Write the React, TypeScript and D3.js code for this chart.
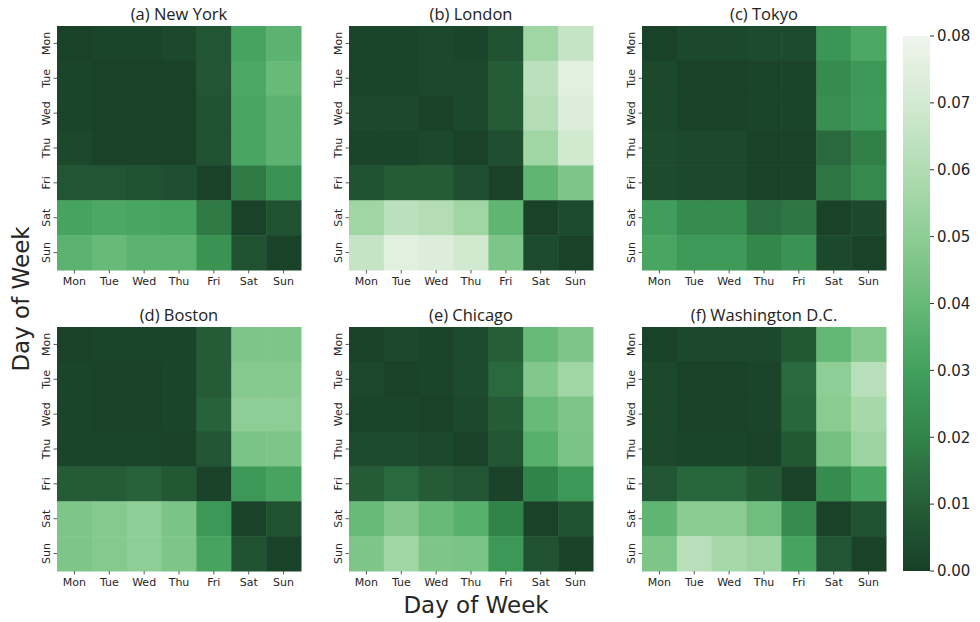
import React from 'react';
import * as d3 from 'd3';

const days = ['Mon', 'Tue', 'Wed', 'Thu', 'Fri', 'Sat', 'Sun'];
const cbTicks = [0, 0.01, 0.02, 0.03, 0.04, 0.05, 0.06, 0.07, 0.08];
const cbColors = ['#173f27', '#265e38', '#318449', '#42a05d', '#67ba78', '#8ecd95', '#b1dcb3', '#d3ead2', '#f0f5ed'];

const newYork = [
  [0.001, 0.002, 0.002, 0.003, 0.007, 0.031, 0.037],
  [0.002, 0.001, 0.001, 0.001, 0.007, 0.033, 0.040],
  [0.002, 0.001, 0.001, 0.001, 0.006, 0.032, 0.037],
  [0.003, 0.001, 0.001, 0.001, 0.006, 0.032, 0.037],
  [0.007, 0.007, 0.006, 0.005, 0.001, 0.017, 0.025],
  [0.031, 0.033, 0.032, 0.031, 0.017, 0.001, 0.006],
  [0.037, 0.040, 0.037, 0.037, 0.025, 0.006, 0.001],
];
const london = [
  [0.002, 0.002, 0.003, 0.002, 0.006, 0.055, 0.066],
  [0.002, 0.002, 0.003, 0.003, 0.009, 0.063, 0.075],
  [0.003, 0.003, 0.001, 0.003, 0.009, 0.061, 0.073],
  [0.002, 0.002, 0.003, 0.001, 0.005, 0.055, 0.069],
  [0.006, 0.009, 0.009, 0.005, 0.001, 0.038, 0.046],
  [0.055, 0.063, 0.061, 0.055, 0.038, 0.001, 0.004],
  [0.066, 0.075, 0.073, 0.069, 0.046, 0.004, 0.001],
];
const tokyo = [
  [0.001, 0.003, 0.003, 0.004, 0.004, 0.026, 0.033],
  [0.003, 0.001, 0.001, 0.002, 0.002, 0.023, 0.027],
  [0.003, 0.001, 0.001, 0.002, 0.002, 0.024, 0.028],
  [0.004, 0.003, 0.003, 0.001, 0.001, 0.013, 0.019],
  [0.004, 0.003, 0.003, 0.001, 0.001, 0.016, 0.022],
  [0.029, 0.023, 0.023, 0.014, 0.016, 0.001, 0.003],
  [0.032, 0.028, 0.028, 0.021, 0.025, 0.003, 0.001],
];
const boston = [
  [0.001, 0.002, 0.002, 0.002, 0.009, 0.046, 0.046],
  [0.002, 0.001, 0.001, 0.002, 0.009, 0.048, 0.048],
  [0.002, 0.001, 0.001, 0.002, 0.011, 0.050, 0.050],
  [0.002, 0.002, 0.002, 0.001, 0.007, 0.045, 0.046],
  [0.009, 0.009, 0.011, 0.008, 0.001, 0.027, 0.031],
  [0.046, 0.048, 0.050, 0.045, 0.027, 0.001, 0.006],
  [0.046, 0.048, 0.050, 0.046, 0.031, 0.006, 0.001],
];
const chicago = [
  [0.001, 0.003, 0.002, 0.004, 0.010, 0.040, 0.046],
  [0.003, 0.001, 0.002, 0.004, 0.013, 0.047, 0.055],
  [0.002, 0.002, 0.001, 0.003, 0.009, 0.040, 0.046],
  [0.004, 0.004, 0.003, 0.001, 0.007, 0.036, 0.045],
  [0.009, 0.013, 0.009, 0.007, 0.001, 0.020, 0.027],
  [0.040, 0.047, 0.040, 0.036, 0.020, 0.001, 0.006],
  [0.046, 0.055, 0.046, 0.045, 0.027, 0.006, 0.001],
];
const washington = [
  [0.001, 0.003, 0.003, 0.003, 0.008, 0.039, 0.048],
  [0.003, 0.001, 0.001, 0.002, 0.013, 0.050, 0.062],
  [0.003, 0.001, 0.001, 0.002, 0.012, 0.049, 0.057],
  [0.003, 0.002, 0.002, 0.001, 0.008, 0.043, 0.054],
  [0.007, 0.012, 0.012, 0.008, 0.001, 0.023, 0.032],
  [0.038, 0.049, 0.049, 0.042, 0.023, 0.001, 0.006],
  [0.046, 0.062, 0.057, 0.054, 0.031, 0.007, 0.001],
];

const titles = ['(a) New York', '(b) London', '(c) Tokyo', '(d) Boston', '(e) Chicago', '(f) Washington D.C.'];
const matrices = [newYork, london, tokyo, boston, chicago, washington];

const W = 980;
const H = 622;
const colX = [57, 349, 642];
const rowY = [26, 327];
const size = 244;

const color = d3.scaleLinear<string>().domain(cbTicks).range(cbColors).interpolate(d3.interpolateRgb).clamp(true);

const tickFont = 'DejaVu Sans, sans-serif';
const titleFont = '"Open Sans", sans-serif';

const Heatmap: React.FC<{ x0: number; y0: number; title: string; data: number[][] }> = ({ x0, y0, title, data }) => {
  const x = d3.scaleBand().domain(days).range([0, size]);
  const y = d3.scaleBand().domain(days).range([0, size]);
  return (
    <g transform={`translate(${x0},${y0})`}>
      <text x={size / 2} y={-6} textAnchor="middle" fontFamily={titleFont} fontSize={16.5} fill="#222">{title}</text>
      {data.map((row, i) =>
        row.map((v, j) => (
          <rect key={`${i}-${j}`} x={x(days[j])} y={y(days[i])} width={x.bandwidth() + 0.5} height={y.bandwidth() + 0.5} fill={color(v)} />
        ))
      )}
      {days.map(d => {
        const cx = (x(d) ?? 0) + x.bandwidth() / 2;
        return (
          <g key={`x-${d}`}>
            <line x1={cx} x2={cx} y1={size} y2={size + 3.5} stroke="#333" strokeWidth={0.8} />
            <text x={cx} y={size + 15} textAnchor="middle" fontFamily={tickFont} fontSize={11} fill="#262626">{d}</text>
          </g>
        );
      })}
      {days.map(d => {
        const cy = (y(d) ?? 0) + y.bandwidth() / 2;
        return (
          <g key={`y-${d}`}>
            <line x1={-3.5} x2={0} y1={cy} y2={cy} stroke="#333" strokeWidth={0.8} />
            <text transform={`translate(${-7},${cy}) rotate(-90)`} textAnchor="middle" fontFamily={tickFont} fontSize={11} fill="#262626">{d}</text>
          </g>
        );
      })}
    </g>
  );
};

export default function App() {
  const cbX = 903;
  const cbW = 27;
  const cbTop = 36;
  const cbBottom = 571;
  const cbScale = d3.scaleLinear().domain([0, 0.08]).range([cbBottom, cbTop]);
  return (
    <svg width={W} height={H} style={{ position: 'absolute', left: 0, top: 0, background: '#fff' }}>
      <defs>
        <linearGradient id="cb" x1="0" y1="1" x2="0" y2="0">
          {cbTicks.map((t, i) => (
            <stop key={t} offset={`${(t / 0.08) * 100}%`} stopColor={cbColors[i]} />
          ))}
        </linearGradient>
      </defs>
      {matrices.map((m, k) => (
        <Heatmap key={k} x0={colX[k % 3]} y0={rowY[Math.floor(k / 3)]} title={titles[k]} data={m} />
      ))}
      <rect x={cbX} y={cbTop} width={cbW} height={cbBottom - cbTop} fill="url(#cb)" />
      {cbTicks.map(t => (
        <g key={t}>
          <line x1={cbX + cbW} x2={cbX + cbW + 4} y1={cbScale(t)} y2={cbScale(t)} stroke="#333" strokeWidth={1} />
          <text x={cbX + cbW + 7} y={cbScale(t)} dy="0.35em" fontFamily={tickFont} fontSize={15} fill="#262626">{t.toFixed(2)}</text>
        </g>
      ))}
      <text x={476} y={613} textAnchor="middle" fontFamily={tickFont} fontSize={23} fill="#262626">Day of Week</text>
      <text transform={`translate(29,299) rotate(-90)`} textAnchor="middle" fontFamily={tickFont} fontSize={23} fill="#262626">Day of Week</text>
    </svg>
  );
}
